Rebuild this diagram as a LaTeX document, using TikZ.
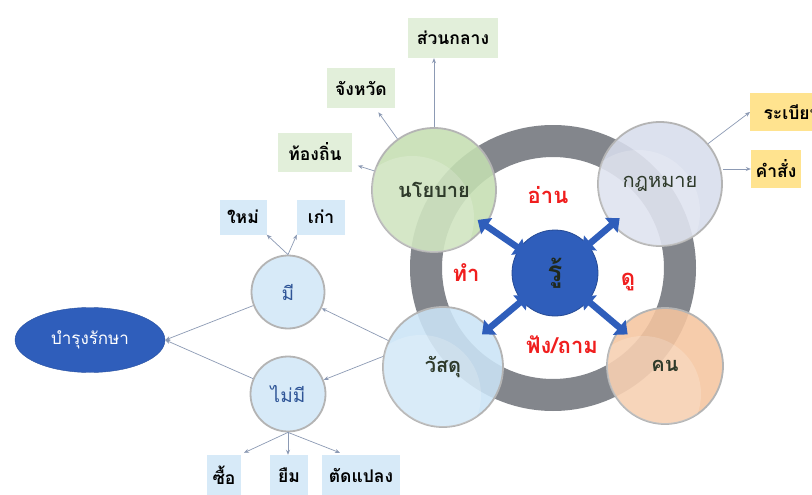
\documentclass[tikz,border=0pt]{standalone}
\usepackage{fontspec}
\newfontfamily\thai[Script=Thai]{Loma}
\usetikzlibrary{arrows.meta,calc,shapes.geometric}

\definecolor{ringgray}{HTML}{83868C}
\definecolor{circbord}{HTML}{B4B4B4}
\definecolor{polgreen}{HTML}{C5DFB2}
\definecolor{lawgray}{HTML}{D8DDEC}
\definecolor{matblue}{HTML}{CBE4F6}
\definecolor{pplpeach}{HTML}{F5C5A0}
\definecolor{coreblue}{HTML}{2F5EBB}
\definecolor{boxgreen}{HTML}{E2EFDA}
\definecolor{boxyellow}{HTML}{FFE38F}
\definecolor{boxblue}{HTML}{D7EAF8}
\definecolor{thinline}{HTML}{8C9AB4}
\definecolor{labelred}{HTML}{F01E1E}
\definecolor{darktext}{HTML}{2E3A2A}
\definecolor{smalltext}{HTML}{2F5597}

\tikzset{
  bigcircle/.style={circle, draw=circbord, line width=1.8pt, fill opacity=0.88,
    text opacity=1, inner sep=0pt, font=\thai\fontsize{20}{22}\selectfont\bfseries,
    text=darktext},
  smallcircle/.style={circle, draw=circbord, line width=1.8pt, fill=boxblue,
    inner sep=0pt, minimum size=73pt, font=\thai\fontsize{19}{21}\selectfont,
    text=smalltext},
  tagbox/.style={rectangle, inner sep=0pt, font=\thai\fontsize{17.5}{19}\selectfont\bfseries,
    text=black},
  verb/.style={font=\thai\fontsize{22}{24}\selectfont\bfseries, text=labelred},
  link/.style={draw=thinline, line width=0.7pt, -{Stealth[length=5pt,width=4pt]}},
  knowarrow/.style={draw=coreblue, line width=6.5pt,
    {Triangle[length=11pt,width=19pt]}-{Triangle[length=11pt,width=19pt]}},
}

\begin{document}
\begin{tikzpicture}[x=1pt,y=-1pt]
\useasboundingbox (0,0) rectangle (812,495);
\fill[white] (0,0) rectangle (812,495);

% grey ring behind the four topic circles
\coordinate (ringc) at (553,268);
\fill[ringgray, even odd rule] (ringc) circle (143pt) (ringc) circle (111pt);

% four topic circles
\node[bigcircle, fill=polgreen, minimum size=124pt] (pol) at (434,190) {};
\node[bigcircle, fill=lawgray, minimum size=124pt] (law) at (660,184) {};
\node[bigcircle, fill=matblue, minimum size=120pt] (mat) at (443,367) {};
\node[bigcircle, fill=pplpeach, minimum size=116pt] (ppl) at (665,366) {};

% soft highlight inside each topic circle
\foreach \c/\r in {pol/62, law/62, mat/60, ppl/58}{
  \begin{scope}
    \clip (\c) circle (\r pt);
    \fill[white, opacity=0.18] ($(\c)+(-22,28)$) circle (\r pt);
  \end{scope}
}
\node[bigcircle, draw=none, fill=none] (poltext) at (pol) {นโยบาย};
\node[bigcircle, draw=none, fill=none] (lawtext) at (law) {\mdseries กฎหมาย};
\node[bigcircle, draw=none, fill=none] (mattext) at (mat) {วัสดุ};
\node[bigcircle, draw=none, fill=none] (ppltext) at (ppl) {คน};

% central node
\node[circle, fill=coreblue, draw=coreblue!80!black, line width=0.8pt,
  minimum size=86pt, inner sep=0pt, text=darktext!70!black,
  font=\thai\fontsize{28}{30}\selectfont\bfseries] (ru) at (555,273) {รู้};

% verbs around the centre
\node[verb] (read) at (548,195) {อ่าน};
\node[verb] (do) at (466,273) {ทำ};
\node[verb] (see) at (628,282) {ดู};
\node[verb] (ask) at (562,345) {ฟัง/ถาม};

% two-way arrows between the centre and the topics
\draw[knowarrow, shorten <=-8pt, shorten >=-10pt] (ru) -- (pol);
\draw[knowarrow, shorten <=-8pt, shorten >=-10pt] (ru) -- (law);
\draw[knowarrow, shorten <=-8pt, shorten >=-10pt] (ru) -- (mat);
\draw[knowarrow, shorten <=-8pt, shorten >=-10pt] (ru) -- (ppl);

% policy levels
\node[tagbox, fill=boxgreen, minimum width=90pt, minimum height=40pt] (central) at (453,38) {ส่วนกลาง};
\node[tagbox, fill=boxgreen, minimum width=68pt, minimum height=40pt] (prov) at (361,88) {จังหวัด};
\node[tagbox, fill=boxgreen, minimum width=74pt, minimum height=39pt] (local) at (315,152) {ท้องถิ่น};
\draw[link] (pol.north) -- (pol.north |- central.south);
\draw[link, shorten >=5pt] (pol) -- (prov);
\draw[link, shorten >=6pt] (pol) -- (local);

% law items
\node[tagbox, fill=boxyellow, minimum width=84pt, minimum height=37pt, anchor=west] (rule) at (750,112) {ระเบียบ};
\node[tagbox, fill=boxyellow, minimum width=50pt, minimum height=38pt] (order) at (776,169) {คำสั่ง};
\draw[link] (law.40) -- (rule.west);
\draw[link] (law.east |- order) -- (order.west);

% materials branch
\node[smallcircle] (have) at (288,292) {มี};
\node[smallcircle, minimum size=75pt] (nohave) at (288,394) {ไม่มี};
\node[ellipse, fill=coreblue, draw=coreblue!85!black, minimum width=150pt, minimum height=65pt,
  inner sep=0pt, text=white, font=\thai\fontsize{17}{19}\selectfont] (keep) at (90,340) {บำรุงรักษา};
\draw[link] (mat) -- (have);
\draw[link] (mat.170) -- (nohave);
\draw[link] (have) -- (keep.east);
\draw[link] (nohave) -- (keep.east);

\node[tagbox, fill=boxblue, minimum width=47pt, minimum height=35pt] (new) at (243,217) {ใหม่};
\node[tagbox, fill=boxblue, minimum width=48pt, minimum height=35pt] (old) at (321,217) {เก่า};
\draw[link] (have.north) -- (new.south east);
\draw[link] (have.north) -- (old.south west);

\node[tagbox, fill=boxblue, minimum width=34pt, minimum height=40pt] (buy) at (224,475) {ซื้อ};
\node[tagbox, fill=boxblue, minimum width=38pt, minimum height=40pt] (borrow) at (289,475) {ยืม};
\node[tagbox, fill=boxblue, minimum width=78pt, minimum height=40pt] (adapt) at (361,475) {ตัดแปลง};
\draw[link] (nohave.south) -- ($(buy.north)+(20,-2)$);
\draw[link] (nohave.south) -- (nohave.south |- borrow.north);
\draw[link] (nohave.south) -- ($(adapt.north)+(-21,-2)$);
\end{tikzpicture}
\end{document}
